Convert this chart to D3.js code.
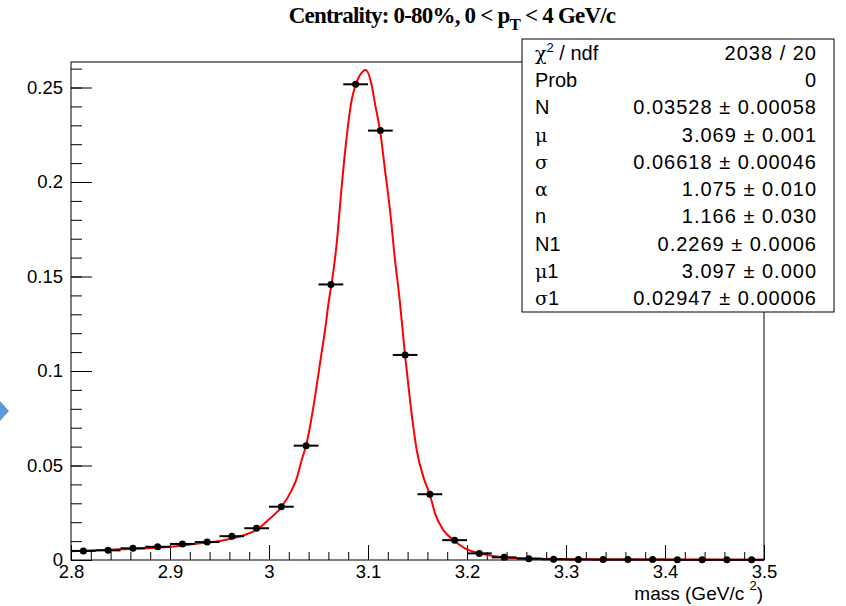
<!DOCTYPE html>
<meta charset="utf-8">
<style>
  body { margin: 0; background: #fff; }
  text { font-family: "Liberation Sans", Arial, sans-serif; fill: #000; }
  .tick line { stroke: #000; stroke-width: 1; }
  .tick text { font-size: 18.5px; }
</style>
<body>
<script src="https://cdn.jsdelivr.net/npm/d3@7/dist/d3.min.js"></script>
<script>
// histogram bins (width 0.025), bin contents
var binCenters = d3.range(28).map(function(i) { return +(2.8125 + i * 0.025).toFixed(4); });
var binValues = [0.0048, 0.0051, 0.0062, 0.0070, 0.0085, 0.0095, 0.0126, 0.0168,
                 0.0282, 0.0605, 0.1458, 0.2517, 0.2272, 0.1085, 0.0348, 0.0105,
                 0.0035, 0.0014, 0.0007, 0.0004, 0.0003, 0.0002, 0.0002, 0.0002,
                 0.0001, 0.0001, 0.0001, 0.0001];

// fit curve
var fitMass = [2.800, 2.850, 2.900, 2.925, 2.950, 2.975, 2.9875, 3.000, 3.0128, 3.0229,
               3.028, 3.033, 3.0374, 3.0414, 3.0465, 3.0515, 3.0566, 3.0606, 3.0633, 3.0684,
               3.0734, 3.0785, 3.0835, 3.0869, 3.0919, 3.0977, 3.1037, 3.107, 3.1121, 3.1172,
               3.1222, 3.1273, 3.132, 3.1374, 3.1424, 3.1492, 3.1559, 3.1626, 3.1677, 3.1761,
               3.1862, 3.198, 3.2131, 3.23, 3.25, 3.30, 3.40, 3.50];
var fitValue = [0.0046, 0.0057, 0.0070, 0.0085, 0.0101, 0.0132, 0.0160, 0.0215, 0.0282, 0.0370,
                0.0432, 0.0529, 0.0605, 0.0705, 0.0864, 0.1040, 0.1217, 0.1376, 0.1464, 0.1676,
                0.1975, 0.2240, 0.2434, 0.2504, 0.2566, 0.2593, 0.2513, 0.2416, 0.2275, 0.2063,
                0.1852, 0.1587, 0.1376, 0.1085, 0.0847, 0.0582, 0.0440, 0.0344, 0.0247, 0.0159,
                0.0106, 0.0062, 0.0035, 0.0018, 0.0010, 0.0004, 0.0002, 0.0001];

var xMajor = [2.8, 2.9, 3.0, 3.1, 3.2, 3.3, 3.4, 3.5];
var xLabels = ["2.8", "2.9", "3", "3.1", "3.2", "3.3", "3.4", "3.5"];
var yMajor = [0, 0.05, 0.1, 0.15, 0.2, 0.25];
var yLabels = ["0", "0.05", "0.1", "0.15", "0.2", "0.25"];

var statNames = ["χ² / ndf", "Prob", "N", "μ", "σ", "α", "n", "N1", "μ1", "σ1"];
var statValues = ["2038 / 20", "0", "0.03528 ± 0.00058", "3.069 ± 0.001", "0.06618 ± 0.00046",
                  "1.075 ± 0.010", "1.166 ± 0.030", "0.2269 ± 0.0006", "3.097 ± 0.000", "0.02947 ± 0.00006"];

var width = 846, height = 606;
var frame = {left: 71, right: 764, top: 62, bottom: 560};

var svg = d3.select("body").append("svg")
    .attr("width", width)
    .attr("height", height);

var x = d3.scaleLinear().domain([2.8, 3.5]).range([frame.left, frame.right]);
var y = d3.scaleLinear().domain([0, 0.2635]).range([frame.bottom, frame.top]);

// little blue arrow on the left edge
svg.append("path")
    .attr("d", "M0,401 L9,411 L0,421 Z")
    .style("fill", "#5b9bd5");

// frame
svg.append("rect")
    .attr("x", frame.left).attr("y", frame.top)
    .attr("width", frame.right - frame.left)
    .attr("height", frame.bottom - frame.top)
    .style("fill", "none").style("stroke", "#000").style("stroke-width", 1);

// x axis: minor then major ticks, drawn inside the frame
svg.append("g")
    .attr("transform", "translate(0," + frame.bottom + ")")
    .call(d3.axisBottom(x).tickValues(d3.range(0, 36).map(function(i) { return 2.8 + i * 0.02; }))
      .tickSize(-8).tickSizeOuter(0).tickFormat(""))
    .call(function(g) { g.select(".domain").remove(); });

svg.append("g")
    .attr("transform", "translate(0," + frame.bottom + ")")
    .call(d3.axisBottom(x).tickValues(xMajor).tickSize(-15).tickSizeOuter(0).tickPadding(5)
      .tickFormat(function(d, i) { return xLabels[i]; }))
    .call(function(g) { g.select(".domain").remove(); });

// y axis
svg.append("g")
    .attr("transform", "translate(" + frame.left + ",0)")
    .call(d3.axisLeft(y).tickValues(d3.range(0, 27).map(function(i) { return i * 0.01; }))
      .tickSize(-11).tickSizeOuter(0).tickFormat(""))
    .call(function(g) { g.select(".domain").remove(); });

svg.append("g")
    .attr("transform", "translate(" + frame.left + ",0)")
    .call(d3.axisLeft(y).tickValues(yMajor).tickSize(-21).tickSizeOuter(0).tickPadding(8)
      .tickFormat(function(d, i) { return yLabels[i]; }))
    .call(function(g) { g.select(".domain").remove(); });

// axis title
var xt = svg.append("text")
    .attr("x", 763).attr("y", 600)
    .attr("text-anchor", "end")
    .style("font-size", "19px");
xt.append("tspan").text("mass (GeV/c ");
xt.append("tspan").attr("dy", -10).style("font-size", "13px").text("2");
xt.append("tspan").attr("dy", 10).text(")");

// title
var title = svg.append("text")
    .attr("x", 452).attr("y", 23)
    .attr("text-anchor", "middle")
    .style("font-family", "'Liberation Serif', 'Times New Roman', serif")
    .style("font-weight", "bold")
    .style("font-size", "23px")
    .style("letter-spacing", "-0.8px");
title.append("tspan").text("Centrality: 0-80%, 0 < p");
title.append("tspan").attr("dy", 7).style("font-size", "17px").text("T");
title.append("tspan").attr("dy", -7).text(" < 4 GeV/c");

// fit
var line = d3.line()
    .x(function(d) { return x(d[0]); })
    .y(function(d) { return y(d[1]); })
    .curve(d3.curveMonotoneX);

svg.append("path")
    .datum(d3.zip(fitMass, fitValue))
    .attr("d", line)
    .style("fill", "none")
    .style("stroke", "#ff0000")
    .style("stroke-width", 2);

// data points with bin-width error bars
var pts = svg.append("g").selectAll("g")
    .data(d3.zip(binCenters, binValues))
  .enter().append("g");

pts.append("line")
    .attr("x1", function(d) { return x(d[0] - 0.0125); })
    .attr("x2", function(d) { return x(d[0] + 0.0125); })
    .attr("y1", function(d) { return y(d[1]); })
    .attr("y2", function(d) { return y(d[1]); })
    .style("stroke", "#000").style("stroke-width", 2);

pts.append("circle")
    .attr("cx", function(d) { return x(d[0]); })
    .attr("cy", function(d) { return y(d[1]); })
    .attr("r", 3.5)
    .style("fill", "#000");

// stats box
var box = {x: 522, y: 39, w: 312, h: 273};
var rowH = box.h / statNames.length;

svg.append("rect")
    .attr("x", box.x).attr("y", box.y)
    .attr("width", box.w).attr("height", box.h)
    .style("fill", "#fff").style("stroke", "#000").style("stroke-width", 1);

var rows = svg.append("g").selectAll("g")
    .data(statNames)
  .enter().append("g")
    .attr("transform", function(d, i) { return "translate(0," + (box.y + rowH * (i + 0.5) + 7) + ")"; });

rows.append("text")
    .attr("x", box.x + 13)
    .style("font-size", "20px")
    .each(function(d) {
      var t = d3.select(this);
      var greek = /^[χμσα]/.test(d);
      if (d.indexOf("²") >= 0) {
        t.append("tspan").style("font-family", "'DejaVu Serif', serif").style("font-size", "19px").text("χ");
        t.append("tspan").attr("dy", -8).style("font-size", "13px").text("2");
        t.append("tspan").attr("dy", 8).text(" / ndf");
      } else if (greek) {
        t.append("tspan").style("font-family", "'DejaVu Serif', serif").style("font-size", "19px").text(d[0]);
        t.append("tspan").text(d.slice(1));
      } else {
        t.text(d);
      }
    });

rows.append("text")
    .attr("x", 817)
    .attr("text-anchor", "end")
    .style("font-size", "20px")
    .style("letter-spacing", "1px")
    .text(function(d, i) { return statValues[i]; });
</script>
</body>
</html>
